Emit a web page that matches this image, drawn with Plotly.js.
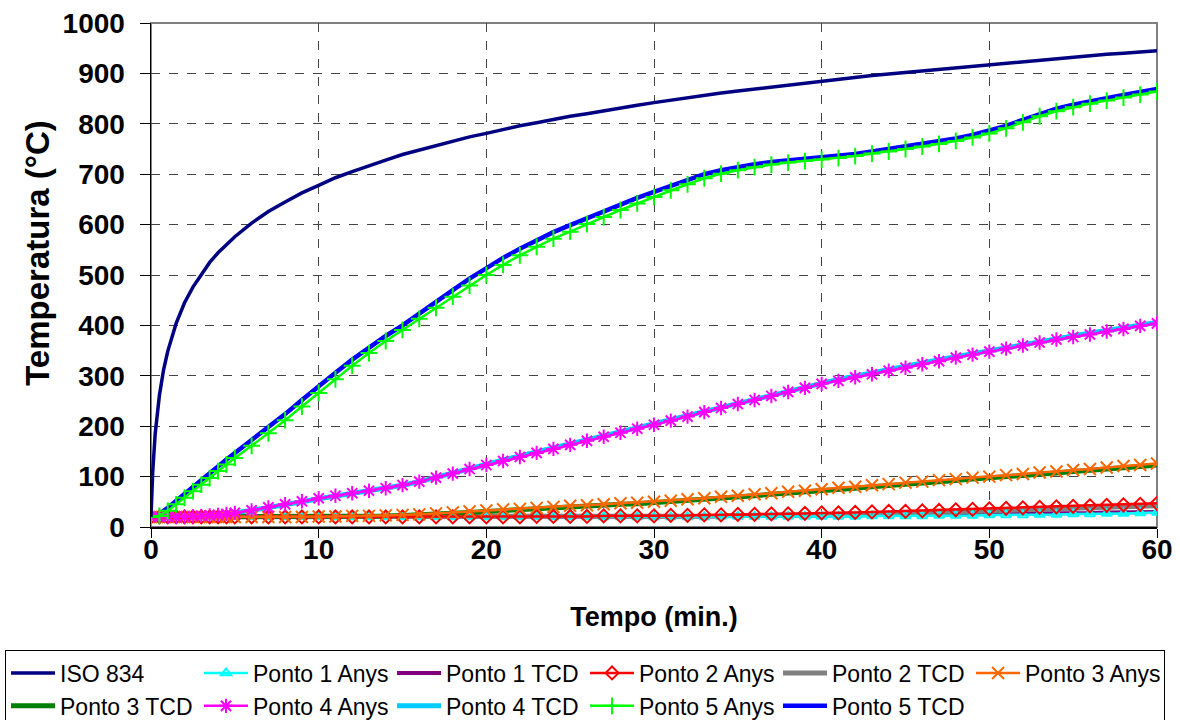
<!DOCTYPE html>
<html>
<head>
<meta charset="utf-8">
<script src="https://cdn.plot.ly/plotly-3.0.1.min.js"></script>
<style>html,body{margin:0;padding:0;background:#fff;}#chart{width:1180px;height:720px;}</style>
</head>
<body>
<div id="chart"></div>
<script>
// ---- data ----
const isoTime = [0,0.1,0.25,0.5,0.75,1,1.5,2,2.5,3,3.5,4,4.5,5,6,7,8,9,10,11,12,13,14,15,16,17,18,19,20,21,22,23,24,25,26,27,28,29,30,31,32,33,34,35,36,37,38,39,40,41,42,43,44,45,46,47,48,49,50,51,52,53,54,55,56,57,58,59,60];
const iso834 = [20,108,185,261,312,349,404,445,476,502,525,544,561,576,603,626,645,663,678,693,705,717,728,739,748,757,766,774,781,789,796,802,809,815,820,826,832,837,842,847,851,856,861,865,869,873,877,881,885,888,892,896,899,902,906,909,912,915,918,921,924,927,930,932,935,938,940,943,945];

const time = [0,0.5,1,1.5,2,2.5,3,3.5,4,4.5,5,6,7,8,9,10,11,12,13,14,15,16,17,18,19,20,21,22,23,24,25,26,27,28,29,30,31,32,33,34,35,36,37,38,39,40,41,42,43,44,45,46,47,48,49,50,51,52,53,54,55,56,57,58,59,60];

const ponto1Anys = [20,20,20,20,20,20,20,20,20,20,20,20,20,20,20,20,20,20,20,20,20,20,20,20,20,20,20,20,20,20,20,20,20,20,20,20,20,20,20,21,21,21,21,21,21,21,21,21,22,22,22,22,23,23,23,24,24,24,25,25,26,26,27,27,28,29];
const ponto1TCD  = [20,20,20,20,20,20,20,20,20,20,20,20,20,20,20,20,20,20,20,20,20,20,20,20,20,20,20,20,20,20,20,20,20,21,21,21,21,21,21,22,22,22,22,22,23,23,23,23,24,24,24,24,25,25,25,26,26,27,27,27,28,28,29,29,30,30];
const ponto2Anys = [20,20,20,20,20,20,20,20,20,20,20,20,20,20,20,20,20,20,20,20,20,20,20,20,20,20,20,20,21,21,21,21,22,22,22,22,23,23,24,24,25,25,26,26,27,28,28,29,30,31,31,32,33,34,35,36,37,38,39,40,41,42,43,44,45,47];
const ponto2TCD  = [20,20,20,20,20,20,20,20,20,20,20,20,20,20,20,20,20,20,20,20,20,20,20,20,20,20,20,20,20,20,20,20,20,20,21,21,21,21,22,22,23,23,23,24,24,25,25,26,26,27,28,28,29,30,30,31,32,33,34,35,36,37,38,39,40,42];
const ponto3Anys = [20,20,20,20,20,20,20,20,20,20,20,20,20,20,20,21,21,22,22,23,24,25,27,29,31,33,35,36,38,40,42,43,45,47,48,50,52,55,57,60,62,65,67,70,72,75,78,80,83,85,88,90,93,95,98,100,103,105,108,110,113,115,118,121,123,126];
const ponto3TCD  = [20,20,20,20,20,20,20,20,20,20,20,20,20,20,20,20,20,21,21,22,23,24,25,27,29,31,33,34,36,38,40,41,43,45,46,48,50,53,55,58,60,62,65,67,70,72,75,77,80,82,85,87,90,92,95,97,100,102,105,107,110,112,115,117,120,123];
const ponto4Anys = [20,20,20,20,20,21,22,23,24,26,28,33,39,45,51,57,62,67,72,77,83,90,98,106,115,123,131,139,147,155,163,171,179,187,195,203,211,219,228,236,244,252,260,268,276,284,290,297,303,310,316,323,329,336,342,348,354,360,366,372,377,382,388,393,399,404];
const ponto4TCD  = [20,20,20,20,20,21,22,23,24,26,28,33,38,44,50,56,61,66,72,77,83,90,98,107,116,124,133,141,149,157,165,173,181,189,197,205,213,222,230,238,246,254,262,270,278,286,293,299,306,312,319,325,332,338,344,351,357,363,368,374,379,385,390,396,401,406];
const ponto5Anys = [20,22,32,45,58,71,84,97,111,124,137,161,186,212,239,266,293,320,345,369,391,413,435,457,479,500,520,539,556,572,586,601,615,629,642,655,668,680,692,701,708,714,719,723,726,729,732,736,741,745,750,755,760,766,773,781,791,803,815,825,833,840,846,852,858,864];
const ponto5TCD  = [20,26,38,52,66,80,94,108,121,134,147,172,198,224,252,280,306,332,356,379,400,424,447,470,493,514,534,552,569,585,599,613,627,640,653,665,677,689,700,708,715,720,724,727,730,733,736,740,745,750,755,759,765,771,778,786,796,808,820,830,838,845,851,857,863,869];

const xTicks = [0,10,20,30,40,50,60];
const yTicks = [0,100,200,300,400,500,600,700,800,900,1000];

const FONT = '"Liberation Sans", Arial, sans-serif';

function lineTrace(name, x, y, color, width, rank) {
  return {type:'scatter', mode:'lines', name:name, x:x, y:y, legendrank:rank,
          line:{color:color, width:width}};
}
function markTrace(name, x, y, color, symbol, size, rank) {
  return {type:'scatter', mode:'lines+markers', name:name, x:x, y:y, legendrank:rank,
          line:{color:color, width:2.5},
          marker:{symbol:symbol, size:size, color:color, line:{color:color, width:2}}};
}

const data = [
  lineTrace('Ponto 1 TCD', time, ponto1TCD, '#800080', 4, 3),
  lineTrace('Ponto 2 TCD', time, ponto2TCD, '#808080', 5, 5),
  lineTrace('Ponto 3 TCD', time, ponto3TCD, '#008000', 5, 7),
  lineTrace('Ponto 4 TCD', time, ponto4TCD, '#00CCFF', 5, 9),
  lineTrace('Ponto 5 TCD', time, ponto5TCD, '#0000FF', 4.5, 11),
  markTrace('Ponto 1 Anys', time, ponto1Anys, '#00FFFF', 'triangle-up-open', 9, 2),
  markTrace('Ponto 2 Anys', time, ponto2Anys, '#FF0000', 'diamond-open', 10, 4),
  markTrace('Ponto 3 Anys', time, ponto3Anys, '#FF6600', 'x-thin-open', 12, 6),
  markTrace('Ponto 4 Anys', time, ponto4Anys, '#FF00FF', 'asterisk-open', 12, 8),
  markTrace('Ponto 5 Anys', time, ponto5Anys, '#00FF00', 'cross-thin-open', 12, 10),
  lineTrace('ISO 834', isoTime, iso834, '#000080', 3.5, 1)
];

const layout = {
  width:1180, height:720,
  paper_bgcolor:'#fff', plot_bgcolor:'#fff',
  font:{family:FONT, color:'#000'},
  margin:{l:151, r:23, t:23, b:193, autoexpand:false},
  showlegend:true,
  legend:{orientation:'h', xref:'paper', yref:'paper', x:-0.1451, xanchor:'left', y:-0.245, yanchor:'top',
          bordercolor:'#000', borderwidth:1, bgcolor:'#fff',
          font:{family:FONT, size:23, color:'#000'},
          entrywidth:134, entrywidthmode:'pixels', itemwidth:44, tracegroupgap:0},
  xaxis:{range:[0,60], tickvals:xTicks, ticktext:xTicks.map(String), ticks:'outside', ticklen:9, tickcolor:'#000',
         showline:true, linecolor:'#000', linewidth:1.5, zeroline:false,
         showgrid:true, gridcolor:'#444', griddash:'dash', gridwidth:1,
         ticklabelstandoff:-12,
         tickfont:{family:FONT, size:28, color:'#000', weight:'bold'},
         title:{text:'<b>Tempo (min.)</b>', font:{family:FONT, size:27, color:'#000'}, standoff:43}},
  yaxis:{range:[0,1000], tickvals:yTicks, ticktext:yTicks.map(String), ticks:'outside', ticklen:10, tickcolor:'#000',
         showline:true, linecolor:'#000', linewidth:1.5, zeroline:false,
         showgrid:true, gridcolor:'#444', griddash:'dash', gridwidth:1,
         ticklabelstandoff:9,
         tickfont:{family:FONT, size:28, color:'#000', weight:'bold'},
         title:{text:''}},
  annotations:[{text:'<b>Temperatura (°C)</b>', xref:'paper', yref:'paper', x:-0.1123, y:0.544,
                xanchor:'center', yanchor:'middle', textangle:-90, showarrow:false,
                font:{family:FONT, size:33, color:'#000'}}],
  shapes:[{type:'rect', xref:'paper', yref:'paper', x0:0, x1:1, y0:0, y1:1, layer:'below',
           line:{color:'#808080', width:2}, fillcolor:'rgba(0,0,0,0)'}]
};

Plotly.newPlot('chart', data, layout, {displayModeBar:false, staticPlot:true});
</script>
</body>
</html>
